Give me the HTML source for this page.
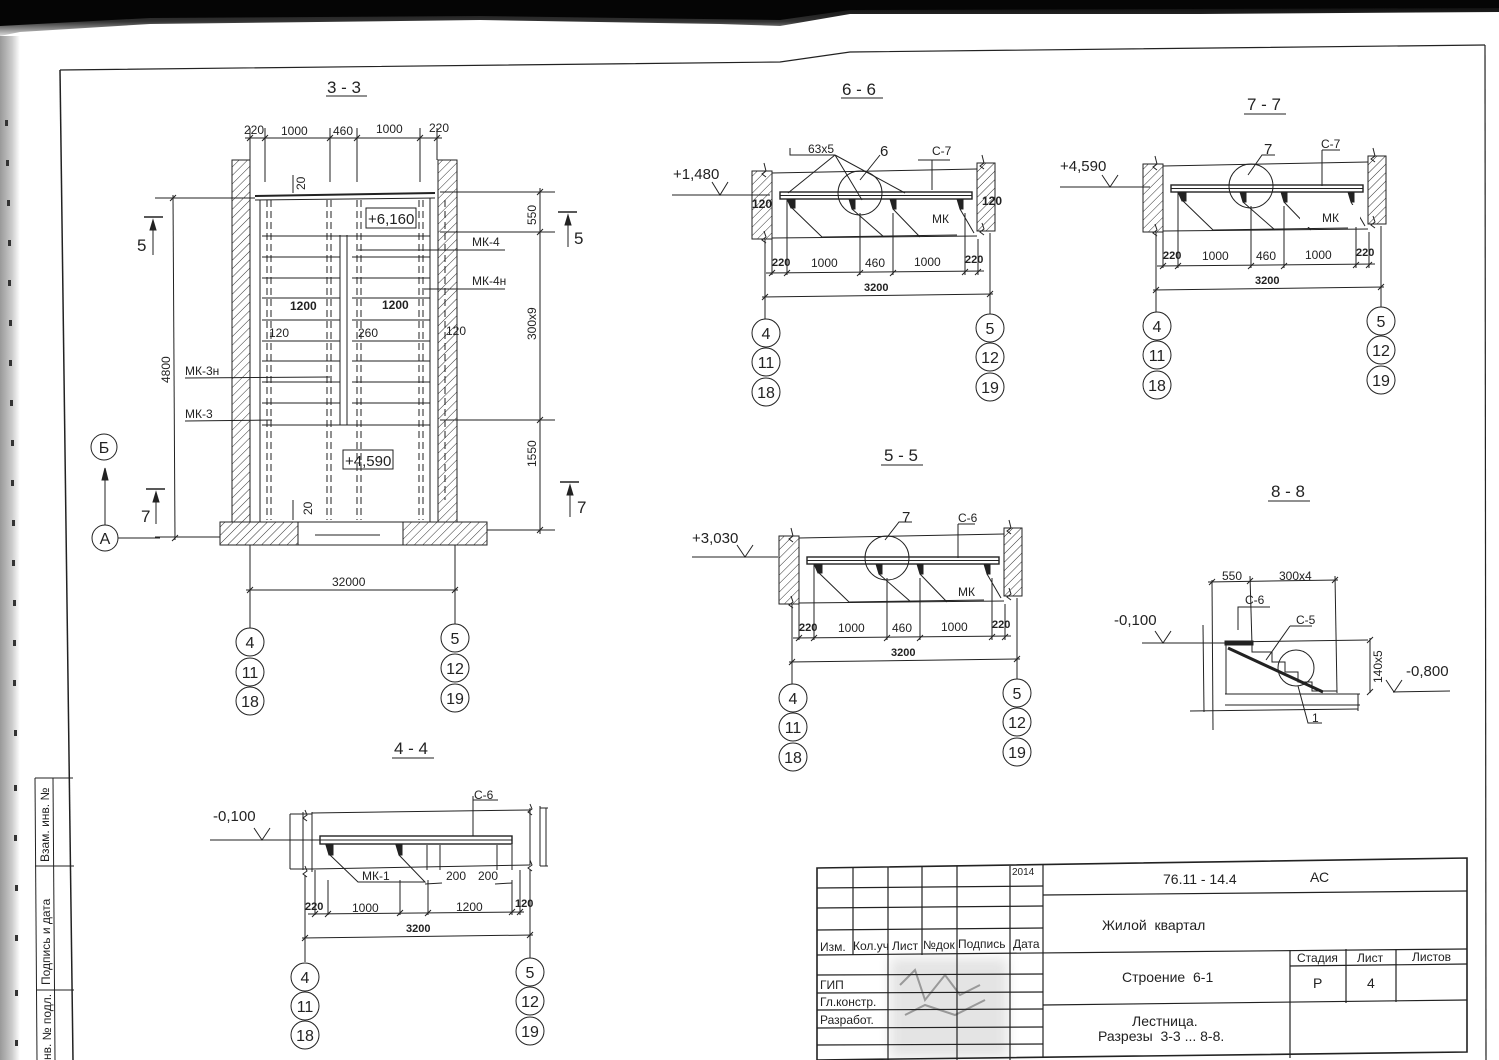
<!DOCTYPE html>
<html><head><meta charset="utf-8"><style>
html,body{margin:0;padding:0;background:#fff}
svg{display:block}
text{font-family:"Liberation Sans",sans-serif;fill:#222}
.d{font-size:12px}
.t{font-size:17px}
.c{font-size:16px;text-anchor:middle}
.m{text-anchor:middle}
</style></head><body>
<svg width="1499" height="1060" viewBox="0 0 1499 1060" xmlns="http://www.w3.org/2000/svg">
<defs>
<pattern id="h" width="6" height="6" patternUnits="userSpaceOnUse" patternTransform="rotate(45)">
<rect width="6" height="6" fill="#fff"/><line x1="0" y1="0" x2="0" y2="6" stroke="#333" stroke-width="1"/>
</pattern>
<linearGradient id="lg" x1="0" x2="1"><stop offset="0" stop-color="#999"/><stop offset="0.6" stop-color="#ccc"/><stop offset="1" stop-color="#fff"/></linearGradient>
<linearGradient id="tg" x1="0" y1="0" x2="0" y2="1"><stop offset="0" stop-color="#000"/><stop offset="0.6" stop-color="#333"/><stop offset="1" stop-color="#ddd"/></linearGradient>
<filter id="bl"><feGaussianBlur stdDeviation="6"/></filter>
</defs>
<rect width="1499" height="1060" fill="#fff"/>
<!-- top dark band -->
<path d="M0 0H1499V12 L1200 14 L850 14 L780 26 L720 24 L480 20 L150 24 L20 32 L0 36Z" fill="url(#tg)"/>
<path d="M0 0H1499V8 L850 10 L780 20 L480 16 L150 18 L0 26Z" fill="#050505"/>
<rect x="0" y="36" width="20" height="1024" fill="url(#lg)"/>
<g fill="#333">
<rect x="5" y="120" width="3" height="6"/><rect x="6" y="160" width="3" height="6"/><rect x="7" y="200" width="3" height="6"/><rect x="8" y="240" width="3" height="6"/><rect x="8" y="280" width="3" height="6"/><rect x="9" y="320" width="3" height="6"/><rect x="9" y="360" width="3" height="6"/><rect x="10" y="400" width="3" height="6"/><rect x="11" y="440" width="3" height="6"/><rect x="11" y="480" width="3" height="6"/><rect x="12" y="520" width="3" height="6"/><rect x="12" y="560" width="3" height="6"/><rect x="13" y="600" width="3" height="6"/><rect x="13" y="640" width="3" height="6"/><rect x="13" y="680" width="3" height="6"/><rect x="14" y="730" width="3" height="6"/><rect x="14" y="785" width="3" height="6"/><rect x="14" y="835" width="3" height="6"/><rect x="15" y="885" width="3" height="6"/><rect x="15" y="935" width="3" height="6"/><rect x="15" y="990" width="3" height="6"/><rect x="15" y="1040" width="3" height="6"/>
</g>
<!-- frame -->
<g stroke="#222" fill="none">
<path d="M60 70 L780 62 L850 52 L1485 45" stroke-width="1.2"/>
<path d="M60 70 L73 1060" stroke-width="1.5"/>
<path d="M1485 45 L1486 1060" stroke-width="1.2"/>
</g>
<!-- left stamp -->
<g stroke="#222" fill="none" stroke-width="1">
<line x1="35" y1="778" x2="73" y2="778"/><line x1="35" y1="866" x2="74" y2="866"/><line x1="36" y1="990" x2="74" y2="990"/>
<line x1="35" y1="778" x2="37" y2="1060"/><line x1="53" y1="778" x2="55" y2="1060"/>
</g>
<text class="d" transform="translate(49,862) rotate(-90)">Взам. инв. №</text>
<text class="d" transform="translate(50,985) rotate(-90)">Подпись и дата</text>
<text class="d" transform="translate(51,1060) rotate(-90)">нв. № подл.</text>

<g stroke="#222" fill="none" stroke-width="1">
<!-- ===== 3-3 ===== -->
<line x1="326" y1="96" x2="367" y2="96"/>
<rect x="232" y="160" width="18" height="362" fill="url(#h)"/>
<rect x="438" y="160" width="19" height="362" fill="url(#h)"/>
<path d="M220 522 H487 V545 H220Z" fill="url(#h)"/>
<rect x="298" y="522" width="105" height="23" fill="#fff"/>
<line x1="315" y1="535" x2="380" y2="535"/>
<line x1="255" y1="196" x2="435" y2="193" stroke-width="2"/>
<line x1="255" y1="200" x2="435" y2="198"/>
<line x1="260" y1="200" x2="260" y2="522"/><line x1="430" y1="198" x2="430" y2="522"/>
<line x1="340" y1="235" x2="340" y2="425"/><line x1="347" y1="235" x2="347" y2="425"/>
<g>
<line x1="262" y1="236" x2="430" y2="236"/>
<line x1="262" y1="257" x2="340" y2="257"/><line x1="352" y1="257" x2="430" y2="257"/>
<line x1="262" y1="278" x2="340" y2="278"/><line x1="352" y1="278" x2="430" y2="278"/>
<line x1="262" y1="298" x2="340" y2="298"/><line x1="352" y1="298" x2="430" y2="298"/>
<line x1="262" y1="320" x2="340" y2="320"/><line x1="352" y1="320" x2="430" y2="320"/>
<line x1="262" y1="341" x2="340" y2="341"/><line x1="352" y1="341" x2="430" y2="341"/>
<line x1="262" y1="361" x2="340" y2="361"/><line x1="352" y1="361" x2="430" y2="361"/>
<line x1="262" y1="382" x2="340" y2="382"/><line x1="352" y1="382" x2="430" y2="382"/>
<line x1="262" y1="403" x2="340" y2="403"/><line x1="352" y1="403" x2="430" y2="403"/>
<line x1="262" y1="425" x2="430" y2="425"/>
</g>
<g stroke-dasharray="7,4">
<line x1="267" y1="200" x2="267" y2="520"/><line x1="271" y1="200" x2="271" y2="520"/>
<line x1="327" y1="200" x2="327" y2="520"/><line x1="331" y1="200" x2="331" y2="520"/>
<line x1="357" y1="200" x2="357" y2="520"/><line x1="361" y1="200" x2="361" y2="520"/>
<line x1="419" y1="200" x2="419" y2="520"/><line x1="423" y1="200" x2="423" y2="520"/>
<line x1="445" y1="200" x2="445" y2="500"/>
</g>
<line x1="245" y1="138" x2="442" y2="138"/>
<line x1="250" y1="128" x2="250" y2="160"/><line x1="265" y1="128" x2="265" y2="182"/><line x1="330" y1="128" x2="330" y2="182"/><line x1="357" y1="128" x2="357" y2="182"/><line x1="420" y1="128" x2="420" y2="182"/><line x1="437" y1="128" x2="437" y2="160"/>
<path d="M247 141l6-6M262 141l6-6M327 141l6-6M354 141l6-6M417 141l6-6M434 141l6-6"/>
<line x1="155" y1="198" x2="255" y2="198"/>
<line x1="173" y1="195" x2="175" y2="540"/>
<path d="M170 201l6-6M172 541l6-6"/>
<line x1="155" y1="537" x2="220" y2="537"/>
<line x1="440" y1="192" x2="555" y2="192"/><line x1="440" y1="232" x2="555" y2="232"/><line x1="440" y1="420" x2="555" y2="420"/><line x1="487" y1="530" x2="555" y2="530"/>
<line x1="540" y1="188" x2="540" y2="534"/>
<path d="M537 195l6-6M537 235l6-6M537 423l6-6M537 533l6-6"/>
<line x1="358" y1="250" x2="505" y2="250"/><line x1="424" y1="289" x2="505" y2="289"/>
<line x1="185" y1="378" x2="330" y2="377"/><line x1="185" y1="421" x2="272" y2="420"/>
<line x1="293" y1="193" x2="293" y2="175"/><line x1="293" y1="520" x2="293" y2="500"/>
<rect x="366" y="208" width="50" height="20"/><rect x="343" y="450" width="50" height="19"/>
<line x1="144" y1="217" x2="163" y2="217" stroke-width="1.5"/><line x1="153" y1="222" x2="153" y2="255"/>
<path d="M150 230L153 220L156 230Z" fill="#222"/>
<line x1="558" y1="212" x2="577" y2="212" stroke-width="1.5"/><line x1="568" y1="217" x2="568" y2="247"/>
<path d="M565 225L568 215L571 225Z" fill="#222"/>
<line x1="146" y1="489" x2="165" y2="489" stroke-width="1.5"/><line x1="156" y1="493" x2="156" y2="524"/>
<path d="M153 502L156 492L159 502Z" fill="#222"/>
<line x1="560" y1="482" x2="579" y2="482" stroke-width="1.5"/><line x1="570" y1="486" x2="570" y2="517"/>
<path d="M567 495L570 485L573 495Z" fill="#222"/>
<circle cx="104" cy="447" r="13"/><circle cx="105" cy="538" r="13"/>
<line x1="105" y1="525" x2="105" y2="470"/><path d="M102 480L105 468L108 480Z" fill="#222"/>
<line x1="118" y1="538" x2="160" y2="538"/>
<line x1="246" y1="590" x2="458" y2="590"/>
<line x1="250" y1="545" x2="250" y2="628"/><line x1="455" y1="545" x2="455" y2="624"/>
<path d="M247 593l6-6M452 593l6-6"/>
<circle cx="250" cy="642" r="14"/><circle cx="250" cy="672" r="14"/><circle cx="250" cy="701" r="14"/>
<circle cx="455" cy="638" r="14"/><circle cx="455" cy="668" r="14"/><circle cx="455" cy="698" r="14"/>
<line x1="841" y1="98" x2="883" y2="98"/>
<line x1="1244" y1="114" x2="1286" y2="114"/>
<line x1="881" y1="465" x2="923" y2="465"/>
<line x1="1268" y1="501" x2="1310" y2="501"/>
<line x1="392" y1="758" x2="434" y2="758"/>
</g>

<text class="t" x="327" y="93">3 - 3</text>
<text class="d" x="244" y="134">220</text><text class="d" x="281" y="135">1000</text><text class="d" x="333" y="135">460</text><text class="d" x="376" y="133">1000</text><text class="d" x="429" y="132">220</text>
<text class="d" transform="translate(305,190) rotate(-90)">20</text>
<text class="d" transform="translate(312,515) rotate(-90)">20</text>
<text class="t" x="368" y="224" style="font-size:15px">+6,160</text>
<text class="t" x="345" y="466" style="font-size:15px">+4,590</text>
<text class="d" x="472" y="246">МК-4</text><text class="d" x="472" y="285">МК-4н</text>
<text class="d" x="290" y="310" style="font-weight:bold">1200</text><text class="d" x="382" y="309" style="font-weight:bold">1200</text>
<text class="d" x="269" y="337">120</text><text class="d" x="358" y="337">260</text><text class="d" x="446" y="335">120</text>
<text class="d" x="185" y="375">МК-3н</text><text class="d" x="185" y="418">МК-3</text>
<text class="d" transform="translate(170,383) rotate(-90)">4800</text>
<text class="d" transform="translate(536,225) rotate(-90)">550</text>
<text class="d" transform="translate(536,340) rotate(-90)">300х9</text>
<text class="d" transform="translate(536,467) rotate(-90)">1550</text>
<text class="t" x="137" y="251">5</text><text class="t" x="574" y="244">5</text>
<text class="t" x="141" y="522">7</text><text class="t" x="577" y="513">7</text>
<text class="c" x="104" y="453">Б</text><text class="c" x="105" y="544">А</text>
<text class="d" x="332" y="586">32000</text>
<text class="c" x="250" y="648">4</text><text class="c" x="250" y="678">11</text><text class="c" x="250" y="707">18</text>
<text class="c" x="455" y="644">5</text><text class="c" x="455" y="674">12</text><text class="c" x="455" y="704">19</text>

<g id="s66" transform="translate(752,193)">
<g stroke="#222" fill="none" stroke-width="1">
<rect x="0" y="-22" width="20" height="68" fill="url(#h)"/>
<rect x="225" y="-30" width="18" height="68" fill="url(#h)"/>
<path d="M12 -30l2 8-4 3 4 3M12 38l2 6-4 3 4 3M230 -38l2 8-4 3 4 3M230 30l2 6-4 3 4 3"/>
<line x1="20" y1="-20" x2="225" y2="-24"/>
<line x1="20" y1="45" x2="225" y2="43"/>
<rect x="28" y="-1" width="192" height="7" fill="#fff" stroke-width="1.4"/>
<line x1="28" y1="2.5" x2="220" y2="2.5"/>
<path d="M35 6h8v9h-4zM97 6h6v10h-3zM138 6h6v10h-3zM205 6h6v10h-3z" fill="#222"/>
<path d="M39 14L70 44M100 16L132 44M141 16L168 44M208 16L222 40"/>
<circle cx="108" cy="0" r="22"/>
<line x1="70" y1="44" x2="205" y2="42"/>
<line x1="20" y1="46" x2="20" y2="82"/><line x1="35" y1="6" x2="35" y2="82"/><line x1="108" y1="20" x2="108" y2="82"/><line x1="141" y1="20" x2="141" y2="82"/><line x1="213" y1="20" x2="213" y2="82"/><line x1="226" y1="46" x2="226" y2="82"/>
<line x1="14" y1="80" x2="232" y2="78"/>
<path d="M17 83l6-6M32 83l6-6M105 83l6-6M138 83l6-6M210 82l6-6M223 82l6-6"/>
<line x1="13" y1="46" x2="13" y2="126"/><line x1="238" y1="40" x2="238" y2="121"/>
<line x1="10" y1="104" x2="241" y2="101"/>
<path d="M10 107l6-6M235 104l6-6"/>
<circle cx="14" cy="140" r="14"/><circle cx="14" cy="169" r="14"/><circle cx="14" cy="199" r="14"/>
<circle cx="238" cy="135" r="14"/><circle cx="238" cy="164" r="14"/><circle cx="238" cy="194" r="14"/>
</g>
<text class="d" x="20" y="73" style="font-weight:bold;font-size:11px">220</text>
<text class="d" x="59" y="74">1000</text><text class="d" x="113" y="74">460</text><text class="d" x="162" y="73">1000</text>
<text class="d" x="213" y="70" style="font-weight:bold;font-size:11px">220</text>
<text class="d" x="112" y="98" style="font-weight:bold;font-size:11px">3200</text>
<text class="c" x="14" y="146">4</text><text class="c" x="14" y="175">11</text><text class="c" x="14" y="205">18</text>
<text class="c" x="238" y="141">5</text><text class="c" x="238" y="170">12</text><text class="c" x="238" y="200">19</text>
</g>
<text class="t" x="842" y="95">6 - 6</text>
<g stroke="#222" fill="none"><path d="M790 148V155H835M835 155L788 193M835 155L862 200M835 155L905 193M880 155L860 180M918 160H950M932 160V190"/>
<line x1="672" y1="195" x2="770" y2="195"/><path d="M712 182L720 195L728 182"/></g>
<text class="d" x="808" y="153">63х5</text><text class="t" x="880" y="156" style="font-size:15px">6</text><text class="d" x="932" y="155">С-7</text>
<text class="d" x="932" y="223">МК</text>
<text class="t" x="673" y="179" style="font-size:15px">+1,480</text>
<text class="d" x="752" y="208" style="font-weight:bold">120</text><text class="d" x="982" y="205" style="font-weight:bold">120</text>

<use href="#s66" transform="translate(391,-7)"/>
<text class="t" x="1247" y="110">7 - 7</text>
<g stroke="#222" fill="none"><path d="M1275 155H1262L1248 175M1322 150H1340M1322 150V186"/>
<line x1="1060" y1="187" x2="1150" y2="187"/><path d="M1102 175L1110 187L1118 175"/></g>
<rect x="1300" y="205" width="60" height="22" fill="#fff"/>
<text class="t" x="1264" y="154" style="font-size:15px">7</text><text class="d" x="1321" y="148">С-7</text><text class="d" x="1322" y="222">МК</text>
<text class="t" x="1060" y="171" style="font-size:15px">+4,590</text>

<use href="#s66" transform="translate(27,365)"/>
<text class="t" x="884" y="461">5 - 5</text>
<g stroke="#222" fill="none"><path d="M912 522H899L885 540M958 524H975M958 524V558"/>
<line x1="692" y1="557" x2="778" y2="557"/><path d="M737 545L745 557L753 545"/></g>
<text class="t" x="902" y="522" style="font-size:15px">7</text><text class="d" x="958" y="522">С-6</text><text class="d" x="958" y="596">МК</text>
<text class="t" x="692" y="543" style="font-size:15px">+3,030</text>

<text class="t" x="1271" y="497">8 - 8</text>
<g stroke="#222" fill="none">
<line x1="1203" y1="625" x2="1204" y2="712"/><line x1="1212" y1="580" x2="1213" y2="730"/>
<line x1="1335" y1="576" x2="1337" y2="693"/>
<line x1="1250" y1="576" x2="1252" y2="645"/>
<line x1="1208" y1="582" x2="1338" y2="580"/>
<path d="M1209 585l6-6M1247 584l6-6M1332 583l6-6"/>
<path d="M1238 630V607H1270"/>
<path d="M1290 626H1312M1290 626L1266 660"/>
<line x1="1142" y1="643" x2="1232" y2="643"/><path d="M1155 631L1163 643L1171 631"/>
<line x1="1225" y1="642" x2="1368" y2="640"/>
<rect x="1225" y="641" width="28" height="4" fill="#222"/>
<path d="M1252 645V652H1272V662H1285V672H1298V682H1312V691H1337"/>
<line x1="1228" y1="648" x2="1323" y2="692" stroke-width="3"/>
<line x1="1226" y1="645" x2="1226" y2="694"/>
<circle cx="1296" cy="668" r="18"/>
<line x1="1225" y1="694" x2="1360" y2="694"/><line x1="1225" y1="705" x2="1360" y2="705"/>
<line x1="1190" y1="711" x2="1358" y2="709"/><line x1="1358" y1="694" x2="1358" y2="711"/>
<path d="M1298 686L1308 723H1322"/>
<line x1="1370" y1="638" x2="1370" y2="693"/><path d="M1367 643l6-6M1367 695l6-6"/>
<line x1="1393" y1="692" x2="1450" y2="691"/><path d="M1386 680L1394 692L1402 680"/>
</g>
<text class="d" x="1222" y="580">550</text><text class="d" x="1279" y="580">300х4</text>
<text class="d" x="1245" y="604">С-6</text><text class="d" x="1296" y="624">С-5</text>
<text class="t" x="1114" y="625" style="font-size:15px">-0,100</text>
<text class="t" x="1406" y="676" style="font-size:15px">-0,800</text>
<text class="d" transform="translate(1382,683) rotate(-90)">140х5</text>
<text class="d" x="1312" y="722">1</text>

<text class="t" x="394" y="754">4 - 4</text>
<g stroke="#222" fill="none">
<path d="M303 812V870M312 812V872M530 808V865M540 806V866"/>
<path d="M305 810l2 5-4 3 4 3M305 866l2 5-4 3 4 3M530 804l2 5-4 3 4 3M530 860l2 5-4 3 4 3"/>
<line x1="290" y1="814" x2="312" y2="814"/><line x1="290" y1="869" x2="312" y2="869"/>
<line x1="290" y1="814" x2="290" y2="869"/><line x1="540" y1="808" x2="548" y2="808"/><line x1="540" y1="866" x2="548" y2="866"/><line x1="546" y1="808" x2="546" y2="866"/>
<line x1="312" y1="813" x2="530" y2="810"/><line x1="312" y1="869" x2="530" y2="865"/>
<rect x="320" y="836" width="192" height="8" fill="#fff" stroke-width="1.4"/>
<line x1="320" y1="840" x2="512" y2="840"/>
<path d="M326 845h7v10h-4zM396 845h6v10h-3z" fill="#222"/>
<path d="M329 854L358 882H425L399 855"/>
<line x1="427" y1="845" x2="427" y2="870"/><line x1="440" y1="845" x2="440" y2="870"/><line x1="497" y1="845" x2="497" y2="870"/><line x1="512" y1="845" x2="512" y2="870"/>
<line x1="425" y1="884" x2="442" y2="883"/><line x1="495" y1="884" x2="512" y2="883"/>
<path d="M473 796V836M473 800H498"/>
<line x1="210" y1="840" x2="320" y2="840"/><path d="M254 828L262 840L270 828"/>
<line x1="305" y1="875" x2="305" y2="962"/><line x1="530" y1="870" x2="530" y2="958"/>
<line x1="328" y1="880" x2="328" y2="915"/><line x1="400" y1="880" x2="400" y2="915"/><line x1="428" y1="880" x2="428" y2="915"/><line x1="512" y1="880" x2="512" y2="915"/><line x1="315" y1="870" x2="315" y2="915"/><line x1="520" y1="870" x2="520" y2="915"/>
<line x1="308" y1="914" x2="524" y2="912"/>
<path d="M312 917l6-6M325 917l6-6M397 916l6-6M425 916l6-6M509 915l6-6M517 915l6-6"/>
<line x1="302" y1="938" x2="533" y2="935"/>
<path d="M302 941l6-6M527 938l6-6"/>
<circle cx="305" cy="977" r="14"/><circle cx="305" cy="1006" r="14"/><circle cx="305" cy="1035" r="14"/>
<circle cx="530" cy="972" r="14"/><circle cx="530" cy="1001" r="14"/><circle cx="530" cy="1031" r="14"/>
</g>
<text class="d" x="474" y="799">С-6</text>
<text class="d" x="362" y="880">МК-1</text>
<text class="d" x="446" y="880">200</text><text class="d" x="478" y="880">200</text>
<text class="t" x="213" y="821" style="font-size:15px">-0,100</text>
<text class="d" x="305" y="910" style="font-weight:bold;font-size:11px">220</text>
<text class="d" x="352" y="912">1000</text><text class="d" x="456" y="911">1200</text>
<text class="d" x="515" y="907" style="font-weight:bold;font-size:11px">120</text>
<text class="d" x="406" y="932" style="font-weight:bold;font-size:11px">3200</text>
<text class="c" x="305" y="983">4</text><text class="c" x="305" y="1012">11</text><text class="c" x="305" y="1041">18</text>
<text class="c" x="530" y="978">5</text><text class="c" x="530" y="1007">12</text><text class="c" x="530" y="1037">19</text>

<!-- Title block -->
<rect x="890" y="958" width="118" height="100" fill="#e4e4e4" filter="url(#bl)"/>
<g stroke="#999" fill="none" stroke-width="2"><path d="M900 985l15-15 10 30 20-25 15 20 20-10M905 1015l20-10 30 10 30-15"/></g>
<g stroke="#222" fill="none" stroke-width="1.2">
<path d="M817 868 L1467 858 L1467 1052 L817 1060Z" stroke-width="1.6"/>
<line x1="853" y1="868" x2="853" y2="955"/><line x1="888" y1="867" x2="888" y2="1060"/>
<line x1="922" y1="867" x2="922" y2="955"/><line x1="957" y1="866" x2="957" y2="1060"/>
<line x1="1010" y1="866" x2="1010" y2="1060"/><line x1="1043" y1="865" x2="1043" y2="1058"/>
<line x1="817" y1="888" x2="1043" y2="886"/><line x1="817" y1="908" x2="1043" y2="906"/><line x1="817" y1="930" x2="1043" y2="928"/>
<line x1="817" y1="955" x2="1467" y2="949"/>
<line x1="817" y1="975" x2="1043" y2="974"/><line x1="817" y1="993" x2="1043" y2="992"/><line x1="817" y1="1010" x2="1043" y2="1009"/><line x1="817" y1="1028" x2="1043" y2="1027"/><line x1="817" y1="1045" x2="1043" y2="1044"/>
<line x1="1043" y1="895" x2="1467" y2="891"/>
<line x1="1043" y1="1005" x2="1467" y2="1000"/>
<line x1="1290" y1="950" x2="1290" y2="1058"/><line x1="1346" y1="949" x2="1346" y2="1003"/><line x1="1396" y1="949" x2="1396" y2="1002"/>
<line x1="1290" y1="966" x2="1467" y2="964"/>
</g>
<text x="1012" y="875" style="font-size:10px">2014</text>
<text x="820" y="951" style="font-size:12px">Изм.</text><text x="853" y="950" style="font-size:12px">Кол.уч</text><text x="892" y="950" style="font-size:12px">Лист</text><text x="923" y="949" style="font-size:12px">№док</text><text x="958" y="948" style="font-size:12px">Подпись</text><text x="1013" y="948" style="font-size:12px">Дата</text>
<text x="820" y="989" style="font-size:12px">ГИП</text><text x="820" y="1006" style="font-size:12px">Гл.констр.</text><text x="820" y="1024" style="font-size:12px">Разработ.</text>
<text x="1163" y="884" style="font-size:14px">76.11 - 14.4</text><text x="1310" y="882" style="font-size:14px">АС</text>
<text x="1102" y="930" style="font-size:14px">Жилой&#160; квартал</text>
<text x="1122" y="982" style="font-size:14px">Строение&#160; 6-1</text>
<text x="1297" y="962" style="font-size:12px">Стадия</text><text x="1357" y="962" style="font-size:12px">Лист</text><text x="1412" y="961" style="font-size:12px">Листов</text>
<text x="1313" y="988" style="font-size:14px">Р</text><text x="1367" y="988" style="font-size:14px">4</text>
<text x="1132" y="1026" style="font-size:14px">Лестница.</text>
<text x="1098" y="1041" style="font-size:14px">Разрезы&#160; 3-3 ... 8-8.</text>
</svg>
</body></html>
